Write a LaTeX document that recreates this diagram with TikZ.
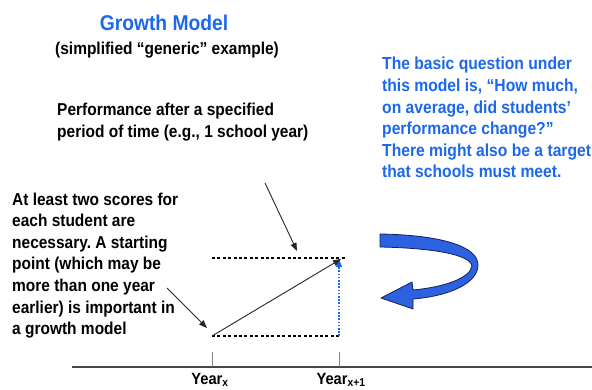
\documentclass[tikz,border=0pt]{standalone}
\usepackage{fontspec}
\setmainfont{Liberation Sans}[FakeStretch=0.9]
\usetikzlibrary{arrows.meta}
\definecolor{tblue}{RGB}{28,104,236}
\definecolor{afill}{RGB}{44,98,226}
\definecolor{aline}{RGB}{22,32,84}
\definecolor{axgray}{RGB}{70,70,70}
\frenchspacing
\tikzset{
  blk/.style={inner sep=0pt, anchor=base west, align=left, font=\fontsize{17.2}{21.6}\selectfont\bfseries},
  blu/.style={blk, text=tblue, font=\fontsize{17.4}{21.6}\selectfont\bfseries},
  yr/.style={inner sep=0pt, anchor=base, font=\fontsize{16.3}{19}\selectfont\bfseries},
  ptr/.style={draw=black!85, line width=0.9pt, -{Triangle[length=8pt,width=6pt]}},
  dsh/.style={draw=black, line width=1.1pt, dash pattern=on 3pt off 2.4pt},
}
\begin{document}
\begin{tikzpicture}[x=1pt,y=-1pt]
\useasboundingbox (0,0) rectangle (592,390);
% texts (multi-line nodes: base = baseline of the last line)
\node[inner sep=0pt, anchor=base, text=tblue, font=\fontsize{21.4}{24}\selectfont\bfseries] (title) at (164,30.5) {Growth Model};
\node[blk] (sub) at (55,55) {(simplified “generic” example)};
\node[blk] (perf) at (57,137.3) {Performance after a specified\\period of time (e.g., 1 school year)};
\node[blu] (quest) at (382,178) {The basic question under\\this model is, “How much,\\on average, did students’\\performance change?”\\There might also be a target\\that schools must meet.};
\node[blk] (left) at (12,334.6) {At least two scores for\\each student are\\necessary. A starting\\point (which may be\\more than one year\\earlier) is important in\\a growth model};
% axis
\coordinate (ax0) at (72,367);
\coordinate (ax1) at (592,367);
\draw[axgray, line width=2pt] (ax0) -- (ax1);
\coordinate (t0a) at (212,352); \coordinate (t0b) at (212,367);
\coordinate (t1a) at (339,352); \coordinate (t1b) at (339,367);
\draw[gray, line width=1pt] (t0a) -- (t0b);
\draw[gray, line width=1pt] (t1a) -- (t1b);
\node[yr] (yx) at (210,384) {Year\textsubscript{x}};
\node[yr] (yx1) at (341,384) {Year\textsubscript{x+1}};
% graph
\coordinate (lowL) at (212,336);
\coordinate (lowR) at (340,336);
\coordinate (upL) at (212,258);
\coordinate (upR) at (345,258);
\coordinate (endp) at (341,259);
\draw[dsh] (upL) -- (upR);
\draw[dsh] (lowL) -- (lowR);
\coordinate (vb) at (339,336);
\coordinate (vt) at (339,259);
\draw[tblue, line width=1.2pt, dash pattern=on 1.6pt off 1.6pt, -{Triangle[length=8pt,width=6pt]}] (vb) -- (vt);
\draw[ptr] (lowL) -- (endp);
% pointers
\coordinate (pa) at (265,183);
\coordinate (pb) at (297,251);
\draw[ptr] (pa) -- (pb);
\coordinate (pc) at (167,288);
\coordinate (pd) at (207,328);
\draw[ptr] (pc) -- (pd);
% curved arrow
\filldraw[fill=afill, draw=aline, line width=0.8pt, line join=round]
  (380,234) .. controls (440,235) and (478,246) .. (478,265)
  .. controls (478,283) and (450,296) .. (413,299)
  -- (413,309) -- (381,298) -- (412,282) -- (413,290)
  .. controls (445,287) and (470,278) .. (472,266)
  .. controls (470,254) and (430,248) .. (380,247) -- cycle;
\end{tikzpicture}
\end{document}
